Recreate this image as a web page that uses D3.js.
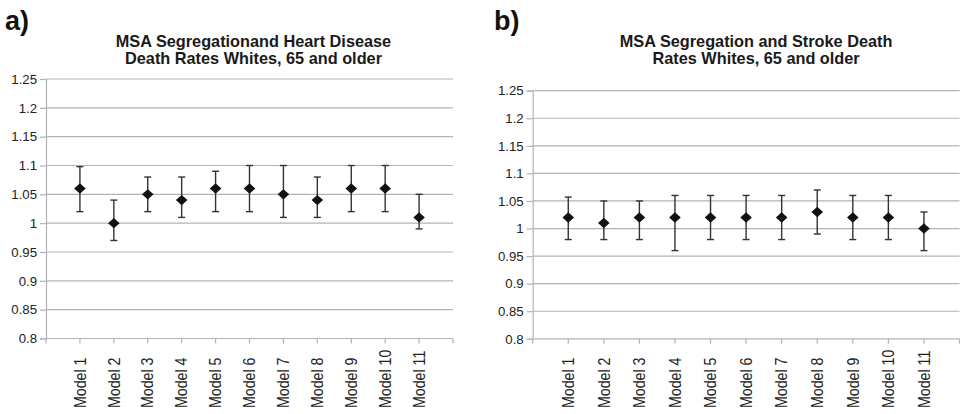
<!DOCTYPE html>
<html>
<head>
<meta charset="utf-8">
<script src="https://cdn.jsdelivr.net/npm/d3@7/dist/d3.min.js"></script>
<style>
html,body{margin:0;padding:0;background:#fff;}
svg{display:block;font-family:"Liberation Sans",Arial,sans-serif;}
</style>
</head>
<body>
<svg id="chart" width="960" height="414"></svg>
<script>
const models = ["Model 1","Model 2","Model 3","Model 4","Model 5","Model 6","Model 7","Model 8","Model 9","Model 10","Model 11"];
const yTicks = [0.8,0.85,0.9,0.95,1,1.05,1.1,1.15,1.2,1.25];

// Panel a: heart disease
const heartEst  = [1.06,1.00,1.05,1.04,1.06,1.06,1.05,1.04,1.06,1.06,1.01];
const heartLow  = [1.02,0.97,1.02,1.01,1.02,1.02,1.01,1.01,1.02,1.02,0.99];
const heartHigh = [1.098,1.04,1.08,1.08,1.09,1.10,1.10,1.08,1.10,1.10,1.05];

// Panel b: stroke
const strokeEst  = [1.02,1.01,1.02,1.02,1.02,1.02,1.02,1.03,1.02,1.02,1.00];
const strokeLow  = [0.98,0.98,0.98,0.96,0.98,0.98,0.98,0.99,0.98,0.98,0.96];
const strokeHigh = [1.057,1.05,1.05,1.06,1.06,1.06,1.06,1.07,1.06,1.06,1.03];

const panels = [
  {label:"a)", labelX:5, title:["MSA Segregationand Heart Disease","Death Rates Whites, 65 and older"],
   x0:46, x1:453, yTop:79, yBot:338.5, est:heartEst, low:heartLow, high:heartHigh},
  {label:"b)", labelX:494, title:["MSA Segregation and Stroke Death","Rates Whites, 65 and older"],
   x0:532.7, x1:959.5, yTop:90.7, yBot:338.8, est:strokeEst, low:strokeLow, high:strokeHigh}
];

const svg = d3.select("#chart");
const gridColor = "#b3b3b3";

panels.forEach(p => {
  const g = svg.append("g");
  const x = d3.scalePoint().domain(models).range([p.x0, p.x1]).padding(1);
  const y = d3.scaleLinear().domain([0.8,1.25]).range([p.yBot, p.yTop]);

  // panel label
  g.append("text").attr("x", p.labelX).attr("y", 29.5)
    .attr("font-size", 27).attr("font-weight", "bold").attr("fill", "#111").text(p.label);

  // title
  const cx = (p.x0 + p.x1) / 2 + (p.label === "a)" ? 4 : 10);
  p.title.forEach((t, i) => {
    g.append("text").attr("x", cx).attr("y", 46.5 + i * 17)
      .attr("text-anchor", "middle").attr("font-size", 16.3).attr("font-weight", "bold")
      .attr("fill", "#1a1a1a").text(t);
  });

  // gridlines
  g.selectAll(".grid").data(yTicks.filter(v => v > 0.8)).enter().append("line")
    .attr("x1", p.x0).attr("x2", p.x1)
    .attr("y1", d => y(d)).attr("y2", d => y(d))
    .attr("stroke", gridColor).attr("stroke-width", 1.2);

  // y axis
  const yAxis = d3.axisLeft(y).tickValues(yTicks).tickSize(6).tickPadding(3)
    .tickFormat(d => String(+d.toFixed(2)));
  const ya = g.append("g").attr("transform", `translate(${p.x0},0)`).call(yAxis);
  ya.select(".domain").attr("stroke", gridColor).attr("stroke-width", 1.2);
  ya.selectAll(".tick line").attr("stroke", gridColor).attr("stroke-width", 1.2);
  ya.selectAll(".tick text").attr("font-size", 13.2).attr("fill", "#222")
    .attr("font-family", "Liberation Sans, Arial, sans-serif");

  // x axis baseline
  g.append("line").attr("x1", p.x0).attr("x2", p.x1)
    .attr("y1", p.yBot).attr("y2", p.yBot)
    .attr("stroke", gridColor).attr("stroke-width", 1.2);
  const tickXs = [p.x0].concat(models.map(m => x(m))).concat([p.x1]);
  g.selectAll(".xt").data(tickXs).enter().append("line")
    .attr("x1", d => d).attr("x2", d => d)
    .attr("y1", p.yBot).attr("y2", p.yBot + 5)
    .attr("stroke", gridColor).attr("stroke-width", 1.2);

  // x labels (rotated, bottom aligned)
  g.selectAll(".xl").data(models).enter().append("text")
    .attr("transform", d => `translate(${x(d)},408) rotate(-90) scale(1,1.12)`)
    .attr("dy", "0.36em").attr("font-size", 14.2).attr("fill", "#222")
    .text(d => d);

  // error bars
  const data = models.map((m, i) => ({m, est:p.est[i], lo:p.low[i], hi:p.high[i]}));
  const eb = g.selectAll(".eb").data(data).enter().append("g");
  eb.append("line").attr("x1", d => x(d.m)).attr("x2", d => x(d.m))
    .attr("y1", d => y(d.lo)).attr("y2", d => y(d.hi))
    .attr("stroke", "#333").attr("stroke-width", 1.4);
  [ "lo", "hi" ].forEach(k => {
    eb.append("line").attr("x1", d => x(d.m) - 3.5).attr("x2", d => x(d.m) + 3.5)
      .attr("y1", d => y(d[k])).attr("y2", d => y(d[k]))
      .attr("stroke", "#333").attr("stroke-width", 1.4);
  });
  // diamonds
  eb.append("path")
    .attr("d", d => {
      const cx = x(d.m), cy = y(d.est), w = 5.8, h = 5.2;
      return `M${cx},${cy-h}L${cx+w},${cy}L${cx},${cy+h}L${cx-w},${cy}Z`;
    })
    .attr("fill", "#111");
});
</script>
</body>
</html>
